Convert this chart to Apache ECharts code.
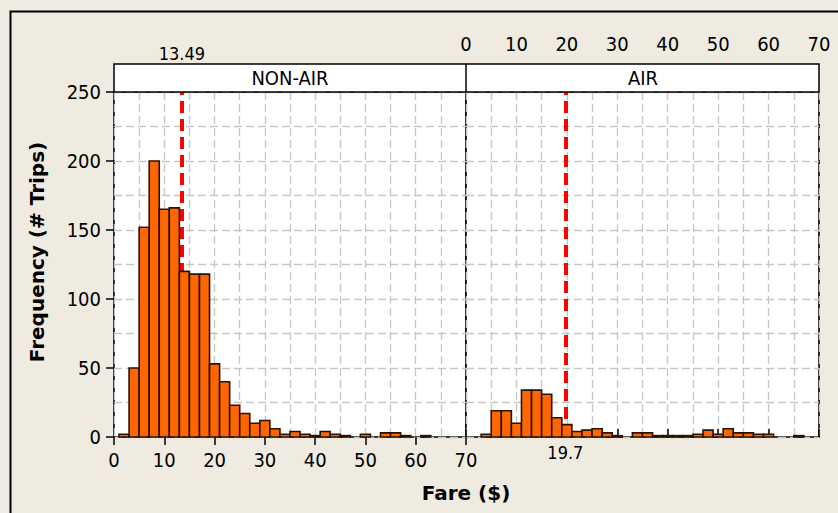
<!DOCTYPE html>
<html>
<head>
<meta charset="utf-8">
<script src="https://cdn.jsdelivr.net/npm/echarts@6/dist/echarts.min.js"></script>
<style>
html,body{margin:0;padding:0;background:#EFEBE1;}
#chart{width:838px;height:513px;}
</style>
</head>
<body>
<div id="chart"></div>
<script>
// ---- data ----
const panels = ['NON-AIR', 'AIR'];
const binLeft  = [1,3,5,7,9,11,13,15,17,19,21,23,25,27,29,31,33,35,37,39,41,43,45,47,49,51,53,55,57,59,61,63,65,67];
const binRight = [3,5,7,9,11,13,15,17,19,21,23,25,27,29,31,33,35,37,39,41,43,45,47,49,51,53,55,57,59,61,63,65,67,69];
const nonAirCounts = [2,50,152,200,165,166,120,118,118,53,40,23,17,10,12,6,2,4,2,1,4,2,1,0,2,0,3,3,1,0,1,0,0,0];
const airCounts    = [0,2,19,19,10,34,34,31,14,9,4,5,6,3,1,0,3,3,1,1,1,1,2,5,2,6,3,3,2,2,0,0,1,0];
const means = [13.49, 19.7];
const xTicks = [0,10,20,30,40,50,60,70];
const yTicks = [0,50,100,150,200,250];
const xTitle = 'Fare ($)';
const yTitle = 'Frequency (# Trips)';

// ---- build ----
function rows(counts){ return counts.map((c,i)=>[binLeft[i], binRight[i], c]); }
const FONT = '"DejaVu Sans Condensed", "DejaVu Sans", sans-serif';
const BOLD = '"DejaVu Sans", sans-serif';

function renderBar(params, api){
  const c = api.value(2);
  if (!c) return {type:'group', children:[]};
  const p0 = api.coord([api.value(0), 0]);
  const p1 = api.coord([api.value(1), c]);
  return {type:'rect', shape:{x:p0[0], y:p1[1], width:p1[0]-p0[0], height:p0[1]-p1[1]},
    style:{fill:'#FF6600', stroke:'#2A1200', lineWidth:1.6}};
}
const gridDash = {color:'#C6C6C6', width:1.3, type:[8,4]};

function xAxisCfg(idx, top){
  return {
    type:'value', gridIndex:idx, min:xTicks[0], max:xTicks[xTicks.length-1], interval:10,
    position: top ? 'top' : 'bottom', offset: top ? 28 : 0,
    axisLine:{show:false},
    axisTick:{show:true, length:8, lineStyle:{color:'#000', width:1.5}},
    axisLabel:{show:true, fontFamily:FONT, fontSize:20, color:'#000', margin: top ? 10 : 13},
    splitLine:{show:true, lineStyle:gridDash},
    minorTick:{show:false, splitNumber:2},
    minorSplitLine:{show:true, lineStyle:gridDash}
  };
}
function yAxisCfg(idx, labels){
  return {
    type:'value', gridIndex:idx, min:yTicks[0], max:yTicks[yTicks.length-1], interval:50,
    axisLine:{show:false},
    axisTick:{show:labels, length:8, lineStyle:{color:'#000', width:1.5}},
    axisLabel:{show:labels, fontFamily:FONT, fontSize:20, color:'#000', margin:13},
    splitLine:{show:true, lineStyle:gridDash},
    minorTick:{show:false, splitNumber:2},
    minorSplitLine:{show:true, lineStyle:gridDash}
  };
}
function meanLine(v, atTop){
  return {
    silent:true, symbol:['none','none'], z:1,
    lineStyle:{color:'#FF0000', width:4, type:[12,6], cap:'butt'},
    label:{show:true, position: atTop ? 'end' : 'start', formatter: String(v),
      fontFamily:FONT, fontSize:18, color:'#000', distance: atTop ? 30 : 6},
    data:[[{coord:[v,0]},{coord:[v,250]}]]
  };
}

const chart = echarts.init(document.getElementById('chart'), null, {renderer:'svg'});
chart.setOption({
  backgroundColor:'#EFEBE1',
  animation:false,
  grid:[
    {left:114, top:92, width:352, height:345, show:true, backgroundColor:'#fff', borderColor:'#000', borderWidth:1.6, containLabel:false},
    {left:466, top:92, width:353, height:345, show:true, backgroundColor:'#fff', borderColor:'#000', borderWidth:1.6, containLabel:false}
  ],
  xAxis:[xAxisCfg(0,false), xAxisCfg(1,true)],
  yAxis:[yAxisCfg(0,true), yAxisCfg(1,false)],
  series:[
    {name:panels[0], type:'custom', xAxisIndex:0, yAxisIndex:0, z:2, renderItem:renderBar,
     encode:{x:[0,1], y:2}, data:rows(nonAirCounts), markLine:meanLine(means[0], true)},
    {name:panels[1], type:'custom', xAxisIndex:1, yAxisIndex:1, z:2, renderItem:renderBar,
     encode:{x:[0,1], y:2}, data:rows(airCounts), markLine:meanLine(means[1], false)}
  ],
  graphic:[
    {type:'rect', left:8, top:9, shape:{x:0, y:0, width:900, height:600}, style:{fill:null, stroke:'#000', lineWidth:2}, z:-1, silent:true},
    {type:'rect', shape:{x:114, y:64, width:705, height:28}, style:{fill:'#fff', stroke:'#000', lineWidth:1.5}, z:5},
    {type:'line', shape:{x1:466, y1:64, x2:466, y2:92}, style:{stroke:'#000', lineWidth:1.5}, z:6},
    {type:'text', x:290, y:78, style:{text:panels[0], font:'20px ' + FONT, fill:'#000', textAlign:'center', textVerticalAlign:'middle'}, z:7},
    {type:'text', x:643, y:78, style:{text:panels[1], font:'20px ' + FONT, fill:'#000', textAlign:'center', textVerticalAlign:'middle'}, z:7},
    {type:'text', x:466, y:493, style:{text:xTitle, font:'bold 20px ' + BOLD, fill:'#000', textAlign:'center', textVerticalAlign:'middle'}, z:7},
    {type:'text', x:37, y:252, rotation:Math.PI/2, style:{text:yTitle, font:'bold 20px ' + BOLD, fill:'#000', textAlign:'center', textVerticalAlign:'middle'}, z:7}
  ]
});
</script>
</body>
</html>
